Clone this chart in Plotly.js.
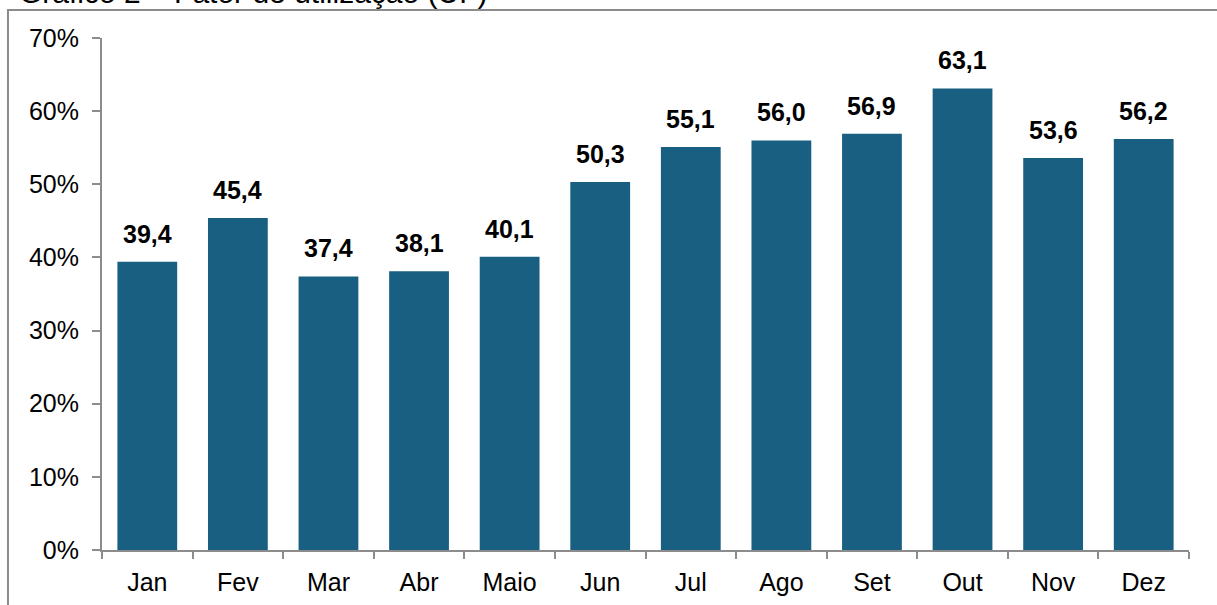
<!DOCTYPE html>
<html>
<head>
<meta charset="utf-8">
<script src="https://cdn.plot.ly/plotly-3.0.1.min.js"></script>
<style>html,body{margin:0;padding:0;background:#fff;}#chart{width:1217px;height:605px;}</style>
</head>
<body>
<div id="chart"></div>
<script>
const months = ["Jan","Fev","Mar","Abr","Maio","Jun","Jul","Ago","Set","Out","Nov","Dez"];
const values = [39.4,45.4,37.4,38.1,40.1,50.3,55.1,56.0,56.9,63.1,53.6,56.2];
const yTicks = [0,10,20,30,40,50,60,70];
const yTickLabels = ["0%","10%","20%","30%","40%","50%","60%","70%"];
const titleText = "Gráfico 2 – Fator de utilização (UF)";

const barColor = "#185f82";
const font = "Liberation Sans, Arial, sans-serif";

const trace = {
  type: "bar",
  x: months,
  y: values,
  marker: {color: barColor},
  hoverinfo: "none"
};

const labelAnns = months.map((m, i) => ({
  x: m, y: values[i], xref: "x", yref: "y",
  text: values[i].toFixed(1).replace(".", ","),
  showarrow: false, yanchor: "bottom", yshift: 12,
  font: {family: font, size: 25, color: "#000", weight: "bold"}
}));

const layout = {
  width: 1217, height: 605,
  margin: {l: 102, r: 28, t: 38, b: 55},
  paper_bgcolor: "#fff", plot_bgcolor: "#fff",
  bargap: 0.34,
  showlegend: false,
  separators: ",.",
  font: {family: font, size: 25, color: "#000"},
  xaxis: {
    type: "category",
    showline: true, linecolor: "#8c8c8c", linewidth: 2,
    ticks: "outside", tickson: "boundaries", ticklen: 7, tickwidth: 2, tickcolor: "#8c8c8c",
    ticklabelstandoff: 9,
    showgrid: false, zeroline: false,
    tickfont: {family: font, size: 25, color: "#000"}
  },
  yaxis: {
    range: [0, 70],
    tickmode: "array", tickvals: yTicks, ticktext: yTickLabels,
    showline: true, linecolor: "#8c8c8c", linewidth: 2,
    ticks: "outside", ticklen: 8, tickwidth: 2, tickcolor: "#8c8c8c",
    ticklabelstandoff: 8,
    showgrid: false, zeroline: false,
    tickfont: {family: font, size: 25, color: "#000"}
  },
  shapes: [{
    type: "rect", xref: "paper", yref: "paper",
    x0: -0.0865, x1: 1.2, y0: -0.3, y1: 1.0547,
    line: {color: "#8c8c8c", width: 2}, fillcolor: "rgba(0,0,0,0)", layer: "below"
  }],
  annotations: labelAnns.concat([{
    x: -0.078, xref: "paper", xanchor: "left",
    y: 1.057, yref: "paper", yanchor: "middle", yshift: 16,
    text: titleText, showarrow: false,
    font: {family: font, size: 30, color: "#000"}
  }])
};

Plotly.newPlot("chart", [trace], layout, {displayModeBar: false, staticPlot: true});
</script>
</body>
</html>
